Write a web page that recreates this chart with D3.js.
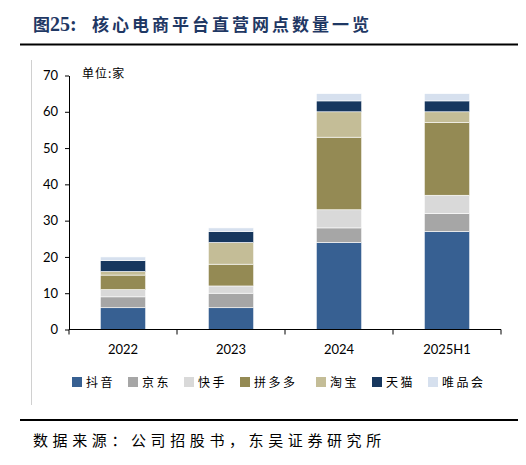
<!DOCTYPE html>
<html>
<head>
<meta charset="utf-8">
<script src="https://cdn.jsdelivr.net/npm/d3@7"></script>
<style>
  body { margin: 0; background: #fff; }
  svg { display: block; }
</style>
</head>
<body>
<svg id="chart" width="526" height="465"></svg>
<script>
// data (unit: 家)
const years = ["2022", "2023", "2024", "2025H1"];
const platforms = ["抖音", "京东", "快手", "拼多多", "淘宝", "天猫", "唯品会"];
const colors = ["#376092", "#a6a6a6", "#d9d9d9", "#948a54", "#c4bd97", "#17375e", "#d6e0ee"];
const douyin = [6, 6, 24, 27];
const jd = [3, 4, 4, 5];
const kuaishou = [2, 2, 5, 5];
const pdd = [4, 6, 20, 20];
const taobao = [1, 6, 7, 3];
const tmall = [3, 3, 3, 3];
const vip = [1, 1, 2, 2];
const yTicks = [0, 10, 20, 30, 40, 50, 60, 70];

const series = [douyin, jd, kuaishou, pdd, taobao, tmall, vip];
const rows = years.map((y, i) => {
  const r = { year: y };
  platforms.forEach((p, k) => r[p] = series[k][i]);
  return r;
});

const svg = d3.select("#chart");
const cjk = "'Noto Sans CJK SC', sans-serif";
const num = "Lato, 'Liberation Sans', sans-serif";

// title: "图" + serif "25:" + spaced text
const title = svg.append("text")
  .attr("y", 31)
  .attr("font-weight", "bold")
  .attr("fill", "#1f3864");
title.append("tspan").attr("x", 33)
  .attr("font-family", cjk).attr("font-size", 17)
  .text("图");
title.append("tspan")
  .attr("font-family", "'Liberation Serif', serif").attr("font-size", 20)
  .text("25:");
title.append("tspan").attr("x", 92)
  .attr("font-family", cjk).attr("font-size", 17).attr("letter-spacing", 3)
  .text("核心电商平台直营网点数量一览");

svg.append("line").attr("x1", 20).attr("x2", 518).attr("y1", 44.5).attr("y2", 44.5)
  .attr("stroke", "#000").attr("stroke-width", 2);
svg.append("line").attr("x1", 20).attr("x2", 518).attr("y1", 420).attr("y2", 420)
  .attr("stroke", "#000").attr("stroke-width", 2);
// chart frame left edge
svg.append("line").attr("x1", 31.5).attr("x2", 31.5).attr("y1", 60).attr("y2", 405)
  .attr("stroke", "#d0d0d0").attr("stroke-width", 1);

svg.append("text")
  .attr("x", 33).attr("y", 446)
  .attr("font-family", cjk).attr("font-size", 15).attr("letter-spacing", 4.6)
  .attr("fill", "#000")
  .text("数据来源：公司招股书，东吴证券研究所");

// scales
const x = d3.scaleBand().domain(years).range([69, 501]).paddingInner(0.58).paddingOuter(0.29);
const y = d3.scaleLinear().domain([0, 70]).range([329.5, 75.5]);

const stack = d3.stack().keys(platforms)(rows);

svg.append("g").selectAll("g")
  .data(stack)
  .join("g")
  .attr("fill", (d, i) => colors[i])
  .selectAll("rect")
  .data(d => d)
  .join("rect")
  .attr("x", d => x(d.data.year))
  .attr("width", x.bandwidth())
  .attr("y", d => y(d[1]))
  .attr("height", d => y(d[0]) - y(d[1]))
  .attr("stroke", "#fff")
  .attr("stroke-width", 0.6);

// y axis
const yAxis = svg.append("g")
  .attr("transform", "translate(69,0)")
  .call(d3.axisLeft(y).tickValues(yTicks).tickSize(4).tickSizeOuter(0));
yAxis.select(".domain").attr("stroke", "#000");
yAxis.selectAll("line").attr("stroke", "#000");
yAxis.selectAll("text").attr("font-family", num).attr("font-size", 13)
  .attr("fill", "#000").attr("x", -11);

// x axis with category boundary ticks
const xg = svg.append("g").attr("transform", "translate(0,329.5)");
xg.append("line").attr("x1", 69).attr("x2", 501).attr("stroke", "#000");
const bounds = [69].concat(years.map(yr => x(yr) + x.bandwidth() / 2 + x.step() / 2));
xg.selectAll("line.tk")
  .data(bounds)
  .join("line")
  .attr("class", "tk")
  .attr("x1", d => d).attr("x2", d => d)
  .attr("y1", 0).attr("y2", 5)
  .attr("stroke", "#000");
xg.selectAll("text")
  .data(years)
  .join("text")
  .attr("x", d => x(d) + x.bandwidth() / 2)
  .attr("y", 24)
  .attr("text-anchor", "middle")
  .attr("font-family", num).attr("font-size", 13).attr("fill", "#000")
  .text(d => d);

// unit label
svg.append("text")
  .attr("x", 82).attr("y", 78)
  .attr("font-family", cjk).attr("font-size", 12).attr("letter-spacing", 1)
  .attr("fill", "#000")
  .text("单位:家");

// legend
const legX = [72, 128, 184, 240, 316, 372, 428];
const leg = svg.append("g").selectAll("g")
  .data(platforms)
  .join("g")
  .attr("transform", (d, i) => `translate(${legX[i]},377)`);
leg.append("rect").attr("width", 10).attr("height", 10)
  .attr("fill", (d, i) => colors[i]);
leg.append("text")
  .attr("x", 14).attr("y", 10)
  .attr("font-family", cjk).attr("font-size", 12).attr("letter-spacing", 2.5)
  .attr("fill", "#000")
  .text(d => d);
</script>
</body>
</html>
